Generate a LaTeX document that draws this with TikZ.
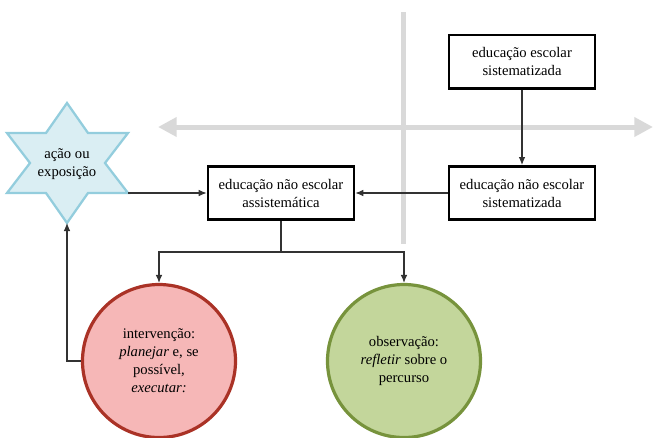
\documentclass[tikz,border=0pt]{standalone}
\usepackage{fontspec}
\setmainfont{Liberation Serif}
\usetikzlibrary{arrows.meta}

\definecolor{axisgray}{RGB}{217,217,217}
\definecolor{linegray}{RGB}{50,50,50}
\definecolor{starfill}{RGB}{218,238,243}
\definecolor{starline}{RGB}{147,205,221}
\definecolor{redfill}{RGB}{246,183,183}
\definecolor{redline}{RGB}{170,50,38}
\definecolor{greenfill}{RGB}{195,214,155}
\definecolor{greenline}{RGB}{119,147,60}

\begin{document}
\begin{tikzpicture}[x=0.75pt,y=-0.75pt,
  txt/.style={align=center, font=\fontsize{11}{13.5}\selectfont},
  stage/.style={txt, draw, line width=2pt, minimum width=109.5pt, minimum height=40pt, inner sep=1pt},
  phase/.style={txt, circle, line width=2.4pt, minimum size=114.75pt, inner sep=0pt},
  axis/.style={axisgray, line width=3.75pt},
  link/.style={linegray, line width=0.8pt},
  tip/.style={link, -{Latex[length=6pt,width=5pt]}}]
\useasboundingbox (0,0) rectangle (654,437);

% gray axes
\draw[axis] (403,12) -- (403,244);
\draw[axis, {Triangle[length=14pt,width=14pt]}-{Triangle[length=14pt,width=14pt]}] (158,127) -- (653,127);

% star
\draw[starline, fill=starfill, line width=1.7pt, line join=miter]
  (67,103) -- (88,133) -- (128,133) -- (105,163) -- (128,193) -- (88,193) -- (67,223)
  -- (46,193) -- (7,193) -- (30,163) -- (7,133) -- (46,133) -- cycle;
\path (67,164) node (act) [txt] {ação ou\\exposição};
\coordinate (act-se) at (128,193);
\coordinate (act-s) at (67,223);

% boxes
\path (522,61.5) node (esc) [stage] {educação escolar\\sistematizada};
\path (522,193) node (nesc) [stage] {educação não escolar\\sistematizada};
\path (281,193) node (nass) [stage] {educação não escolar\\assistemática};

% circles
\path (159,361) node (int) [phase, draw=redline, fill=redfill] {intervenção:\\\textit{planejar} e, se\\possível,\\\textit{executar:}};
\path (404,361) node (obs) [phase, draw=greenline, fill=greenfill] {observação:\\\textit{refletir} sobre o\\percurso};

% connectors
\draw[tip] (esc) -- (nesc);
\draw[tip] (nesc) -- (nass);
\draw[tip] (act-se) -- (act-se -| nass.west);
\draw[link] (nass.south) -- ++(0,31) coordinate (split);
\draw[tip] (split) -| (int.north);
\draw[tip] (split) -| (obs.north);
\draw[tip] (int.west) -| (act-s);
\end{tikzpicture}
\end{document}
